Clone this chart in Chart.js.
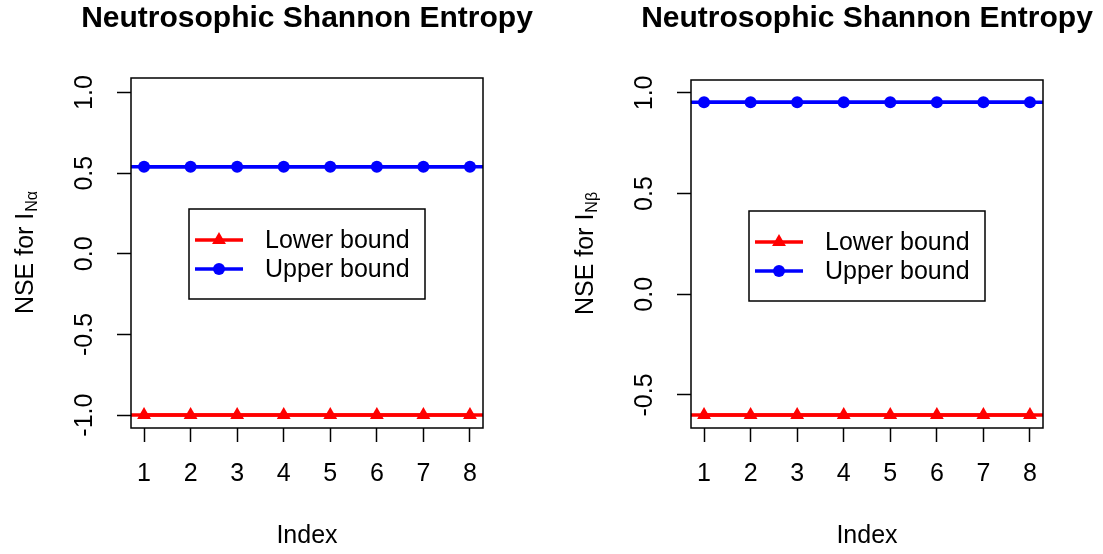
<!DOCTYPE html>
<html lang="en">
<head>
<meta charset="UTF-8">
<title>Neutrosophic Shannon Entropy</title>
<style>
  body { margin: 0; background: #fff; width: 1103px; height: 554px; position: relative; overflow: hidden; }
  .panel { position: absolute; top: 0; }
</style>
<script src="https://cdn.jsdelivr.net/npm/chart.js"></script>
</head>
<body>
<div class="panel" style="left:0"><canvas id="chartAlpha" width="552" height="554"></canvas></div>
<div class="panel" style="left:560px"><canvas id="chartBeta" width="543" height="554"></canvas></div>

<script>
// data
const indexValues = [1, 2, 3, 4, 5, 6, 7, 8];
const lowerAlpha = [-1.00, -1.00, -1.00, -1.00, -1.00, -1.00, -1.00, -1.00];
const upperAlpha = [0.54, 0.54, 0.54, 0.54, 0.54, 0.54, 0.54, 0.54];
const lowerBeta = [-0.60, -0.60, -0.60, -0.60, -0.60, -0.60, -0.60, -0.60];
const upperBeta = [0.953, 0.953, 0.953, 0.953, 0.953, 0.953, 0.953, 0.953];
const yTicksAlpha = [-1, -0.5, 0, 0.5, 1];
const yTicksBeta = [-0.5, 0, 0.5, 1];
const seriesNames = ['Lower bound', 'Upper bound'];
const chartTitle = 'Neutrosophic Shannon Entropy';

const FONT = '"Liberation Sans", Arial, Helvetica, sans-serif';
Chart.defaults.font.family = FONT;
Chart.defaults.color = '#000';

function toPoints(values) {
    return values.map((v, i) => ({ x: indexValues[i], y: v }));
}

// R-like decorations: box, titles, legend and abline across the panel
const rStyle = {
    id: 'rStyle',
    beforeDatasetsDraw(chart) {
        const { ctx, chartArea: a, scales: { y } } = chart;
        ctx.save();
        chart.data.datasets.forEach(ds => {
            ctx.strokeStyle = ds.borderColor;
            ctx.lineWidth = ds.borderWidth;
            const py = y.getPixelForValue(ds.data[0].y);
            ctx.beginPath();
            ctx.moveTo(a.left, py);
            ctx.lineTo(a.right, py);
            ctx.stroke();
        });
        ctx.restore();
    },
    afterDraw(chart, args, opts) {
        const { ctx, chartArea: a } = chart;
        const cx = (a.left + a.right) / 2;
        const cy = (a.top + a.bottom) / 2;
        ctx.save();
        ctx.strokeStyle = '#000';
        ctx.lineWidth = 1.5;
        ctx.strokeRect(a.left, a.top, a.right - a.left, a.bottom - a.top);

        ctx.fillStyle = '#000';
        ctx.font = 'bold 30px ' + FONT;
        ctx.textAlign = 'center';
        ctx.textBaseline = 'alphabetic';
        ctx.fillText(chartTitle, cx, 27);

        ctx.font = '25px ' + FONT;
        ctx.fillText('Index', cx, 543);

        // y title with subscript
        ctx.save();
        ctx.translate(33, cy);
        ctx.rotate(-Math.PI / 2);
        ctx.textAlign = 'left';
        const main = 'NSE for I';
        ctx.font = '25px ' + FONT;
        const wM = ctx.measureText(main).width;
        ctx.font = '16px ' + FONT;
        const wS = ctx.measureText(opts.sub).width;
        const x0 = -(wM + wS) / 2;
        ctx.font = '25px ' + FONT;
        ctx.fillText(main, x0, 0);
        ctx.font = '16px ' + FONT;
        ctx.fillText(opts.sub, x0 + wM + 1, 4);
        ctx.restore();

        // legend
        const lx = a.left + 58, ly = a.top + 131;
        ctx.lineWidth = 1.5;
        ctx.strokeStyle = '#000';
        ctx.strokeRect(lx, ly, 236, 90);
        chart.data.datasets.forEach((ds, i) => {
            const ry = ly + 31 + i * 29;
            ctx.strokeStyle = ds.borderColor;
            ctx.lineWidth = 3.5;
            ctx.beginPath();
            ctx.moveTo(lx + 6, ry);
            ctx.lineTo(lx + 54, ry);
            ctx.stroke();
            ctx.fillStyle = ds.borderColor;
            const px = lx + 30;
            ctx.beginPath();
            if (ds.pointStyle === 'triangle') {
                const r = ds.pointRadius;
                ctx.moveTo(px, ry - r);
                ctx.lineTo(px + r * Math.sqrt(3) / 2, ry + r / 2);
                ctx.lineTo(px - r * Math.sqrt(3) / 2, ry + r / 2);
                ctx.closePath();
            } else {
                ctx.arc(px, ry, ds.pointRadius, 0, Math.PI * 2);
            }
            ctx.fill();
            ctx.fillStyle = '#000';
            ctx.font = '25px ' + FONT;
            ctx.textAlign = 'left';
            ctx.textBaseline = 'middle';
            ctx.fillText(ds.label, lx + 76, ry + 1);
        });
        ctx.restore();
    }
};

function makeChart(id, lower, upper, yTicks, yMin, yMax, sub, padTop, padRight) {
    return new Chart(document.getElementById(id), {
        type: 'scatter',
        data: {
            datasets: [
                {
                    label: seriesNames[0],
                    data: toPoints(lower),
                    showLine: true,
                    borderColor: '#ff0000',
                    backgroundColor: '#ff0000',
                    borderWidth: 3.5,
                    pointStyle: 'triangle',
                    pointRadius: 8,
                    pointBorderWidth: 0
                },
                {
                    label: seriesNames[1],
                    data: toPoints(upper),
                    showLine: true,
                    borderColor: '#0000ff',
                    backgroundColor: '#0000ff',
                    borderWidth: 3.5,
                    pointStyle: 'circle',
                    pointRadius: 6,
                    pointBorderWidth: 0
                }
            ]
        },
        options: {
            responsive: false,
            animation: false,
            layout: { padding: { top: padTop, right: padRight, bottom: 0, left: 0 } },
            plugins: {
                legend: { display: false },
                tooltip: { enabled: false },
                rStyle: { sub: sub }
            },
            scales: {
                x: {
                    type: 'linear',
                    min: 0.72,
                    max: 8.28,
                    afterBuildTicks: s => { s.ticks = indexValues.map(v => ({ value: v })); },
                    afterFit: s => { s.height = 126; },
                    grid: { drawOnChartArea: false, drawTicks: true, tickLength: 14, color: '#000', tickColor: '#000', tickWidth: 1.5 },
                    border: { display: false },
                    ticks: { font: { size: 25 }, padding: 17, maxRotation: 0, autoSkip: false }
                },
                y: {
                    type: 'linear',
                    min: yMin,
                    max: yMax,
                    afterBuildTicks: s => { s.ticks = yTicks.map(v => ({ value: v })); },
                    afterFit: s => { s.width = 131; },
                    grid: { drawOnChartArea: false, drawTicks: true, tickLength: 14, color: '#000', tickColor: '#000', tickWidth: 1.5 },
                    border: { display: false },
                    ticks: {
                        font: { size: 25 },
                        minRotation: 90,
                        maxRotation: 90,
                        crossAlign: 'center',
                        padding: 10,
                        autoSkip: false,
                        callback: v => v.toFixed(1)
                    }
                }
            }
        },
        plugins: [rStyle]
    });
}

makeChart('chartAlpha', lowerAlpha, upperAlpha, yTicksAlpha, -1.08, 1.09, 'N\u03b1', 78, 69);
makeChart('chartBeta', lowerBeta, upperBeta, yTicksBeta, -0.664, 1.064, 'N\u03b2', 80, 60);
</script>
</body>
</html>
